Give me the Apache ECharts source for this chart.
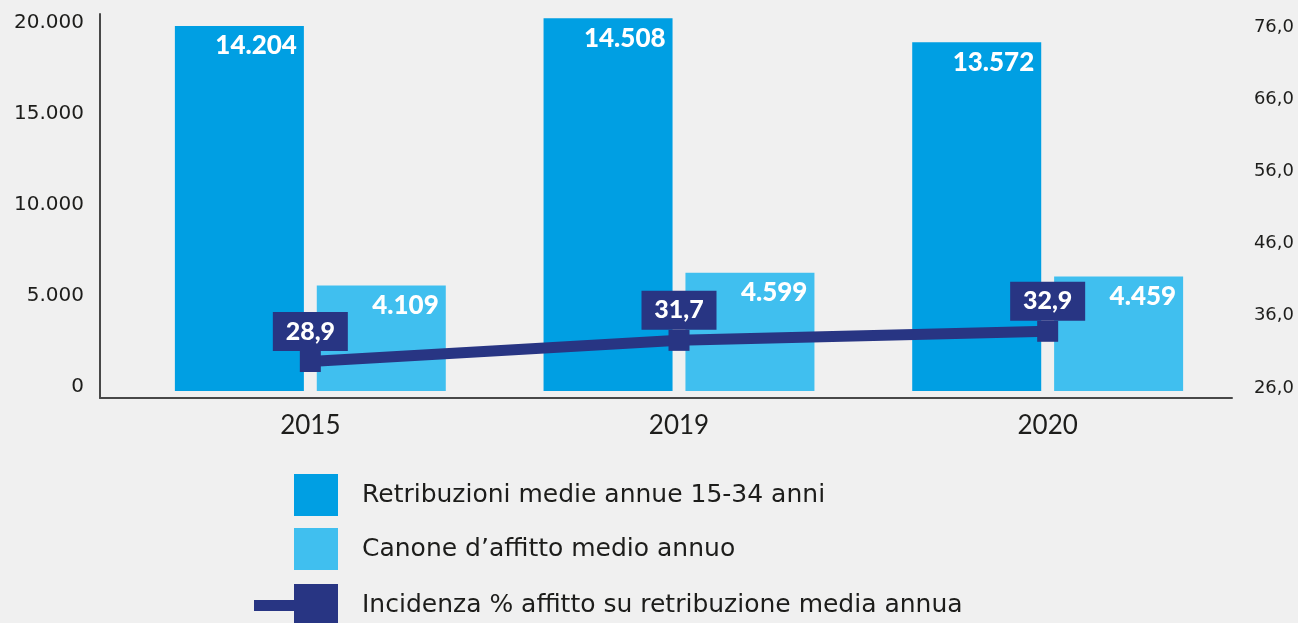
<!DOCTYPE html>
<html>
<head>
<meta charset="utf-8">
<script src="https://cdn.jsdelivr.net/npm/echarts@6/dist/echarts.min.js"></script>
<style>
  html, body { margin: 0; padding: 0; background: #f0f0f0; }
  #chart { width: 1298px; height: 623px; }
</style>
</head>
<body>
<div id="chart"></div>
<script>
const years = ['2015', '2019', '2020'];
const retribuzioni = [14204, 14508, 13572];
const canone = [4109, 4599, 4459];
const incidenza = [28.9, 31.7, 32.9];
const leftTicks = { min: 0, max: 20000, interval: 5000 };
const rightTicks = { min: 26, max: 76, interval: 10 };

const serieNames = [
  'Retribuzioni medie annue 15-34 anni',
  'Canone d\u2019affitto medio annuo',
  'Incidenza % affitto su retribuzione media annua'
];

const dark = '#009fe3';
const light = '#40bfef';
const navy = '#283583';
const axisColor = '#484848';
const textColor = '#1d1d1b';
const font = 'Lato';
const wideFont = 'DejaVu Sans';

const thousands = v => String(v).replace(/\B(?=(\d{3})+(?!\d))/g, '.');
const comma = v => Number(v).toFixed(1).replace('.', ',');

const chart = echarts.init(document.getElementById('chart'));

const barLabel = {
  show: true,
  position: 'insideTopRight',
  distance: 7,
  color: '#fff',
  fontFamily: font,
  fontWeight: 900,
  fontSize: 26,
  formatter: p => thousands(p.value)
};

const legendText = { fontFamily: wideFont, fontSize: 25, color: textColor, padding: [0, 0, 0, 19] };

chart.setOption({
  backgroundColor: '#f0f0f0',
  animation: false,
  grid: [
    // axis lines
    { left: 100, right: 66, top: 14, bottom: 225 },
    // left labels
    { left: 100, right: 66, top: 23, bottom: 236 },
    // bars and line
    { left: 126, right: 66, top: 5.5, bottom: 232 },
    // right labels
    { left: 126, right: 66, top: 27, bottom: 235 }
  ],
  legend: [
    {
      data: serieNames.slice(0, 2),
      orient: 'vertical',
      left: 294,
      top: 474,
      padding: 0,
      icon: 'rect',
      itemWidth: 44,
      itemHeight: 42,
      itemGap: 12,
      selectedMode: false,
      textStyle: legendText
    },
    {
      data: [{ name: serieNames[2], icon: 'path://M0,16H42V27H0Z M40,0H84V42H40Z' }],
      left: 254,
      top: 584,
      padding: 0,
      itemWidth: 84,
      itemHeight: 42,
      selectedMode: false,
      textStyle: legendText
    }
  ],
  xAxis: [
    {
      gridIndex: 0, type: 'category', data: years,
      axisLine: { lineStyle: { color: axisColor, width: 2 } },
      axisTick: { show: false }, axisLabel: { show: false }
    },
    { gridIndex: 1, type: 'category', data: years, show: false },
    {
      gridIndex: 2, type: 'category', data: years,
      axisLine: { show: false }, axisTick: { show: false },
      axisLabel: { margin: 22, fontFamily: font, fontSize: 26, color: textColor }
    },
    { gridIndex: 3, type: 'category', data: years, show: false }
  ],
  yAxis: [
    {
      gridIndex: 0, type: 'value', min: 0, max: 1,
      axisLine: { show: true, lineStyle: { color: axisColor, width: 2 } },
      axisTick: { show: false }, axisLabel: { show: false }, splitLine: { show: false }
    },
    {
      gridIndex: 1, type: 'value', ...leftTicks,
      axisLine: { show: false }, axisTick: { show: false }, splitLine: { show: false },
      axisLabel: { margin: 16, fontFamily: wideFont, fontSize: 20, color: textColor, formatter: thousands }
    },
    { gridIndex: 2, type: 'value', min: 0, max: 15000, show: false, splitLine: { show: false } },
    { gridIndex: 2, type: 'value', min: 25, max: 76, show: false, splitLine: { show: false } },
    {
      gridIndex: 3, type: 'value', position: 'right', ...rightTicks,
      axisLine: { show: false }, axisTick: { show: false }, splitLine: { show: false },
      axisLabel: { margin: 62, align: 'right', fontFamily: wideFont, fontSize: 18, color: textColor, formatter: comma }
    }
  ],
  series: [
    {
      name: serieNames[0], type: 'bar', xAxisIndex: 2, yAxisIndex: 2,
      data: retribuzioni, barWidth: 129, barGap: '10%',
      itemStyle: { color: dark }, label: barLabel
    },
    {
      name: serieNames[1], type: 'bar', xAxisIndex: 2, yAxisIndex: 2,
      data: canone, barWidth: 129, barGap: '10%',
      itemStyle: { color: light }, label: barLabel
    },
    {
      name: serieNames[2], type: 'line', xAxisIndex: 2, yAxisIndex: 3,
      data: incidenza,
      symbol: 'rect', symbolSize: 21,
      lineStyle: { color: navy, width: 11 },
      itemStyle: { color: navy, borderWidth: 0 },
      label: {
        show: true, position: 'top', distance: 0,
        backgroundColor: navy, color: '#fff',
        fontFamily: font, fontWeight: 900, fontSize: 25,
        width: 75, height: 39, lineHeight: 39, align: 'center',
        formatter: p => comma(p.value)
      },
      z: 5
    }
  ]
});
</script>
</body>
</html>
